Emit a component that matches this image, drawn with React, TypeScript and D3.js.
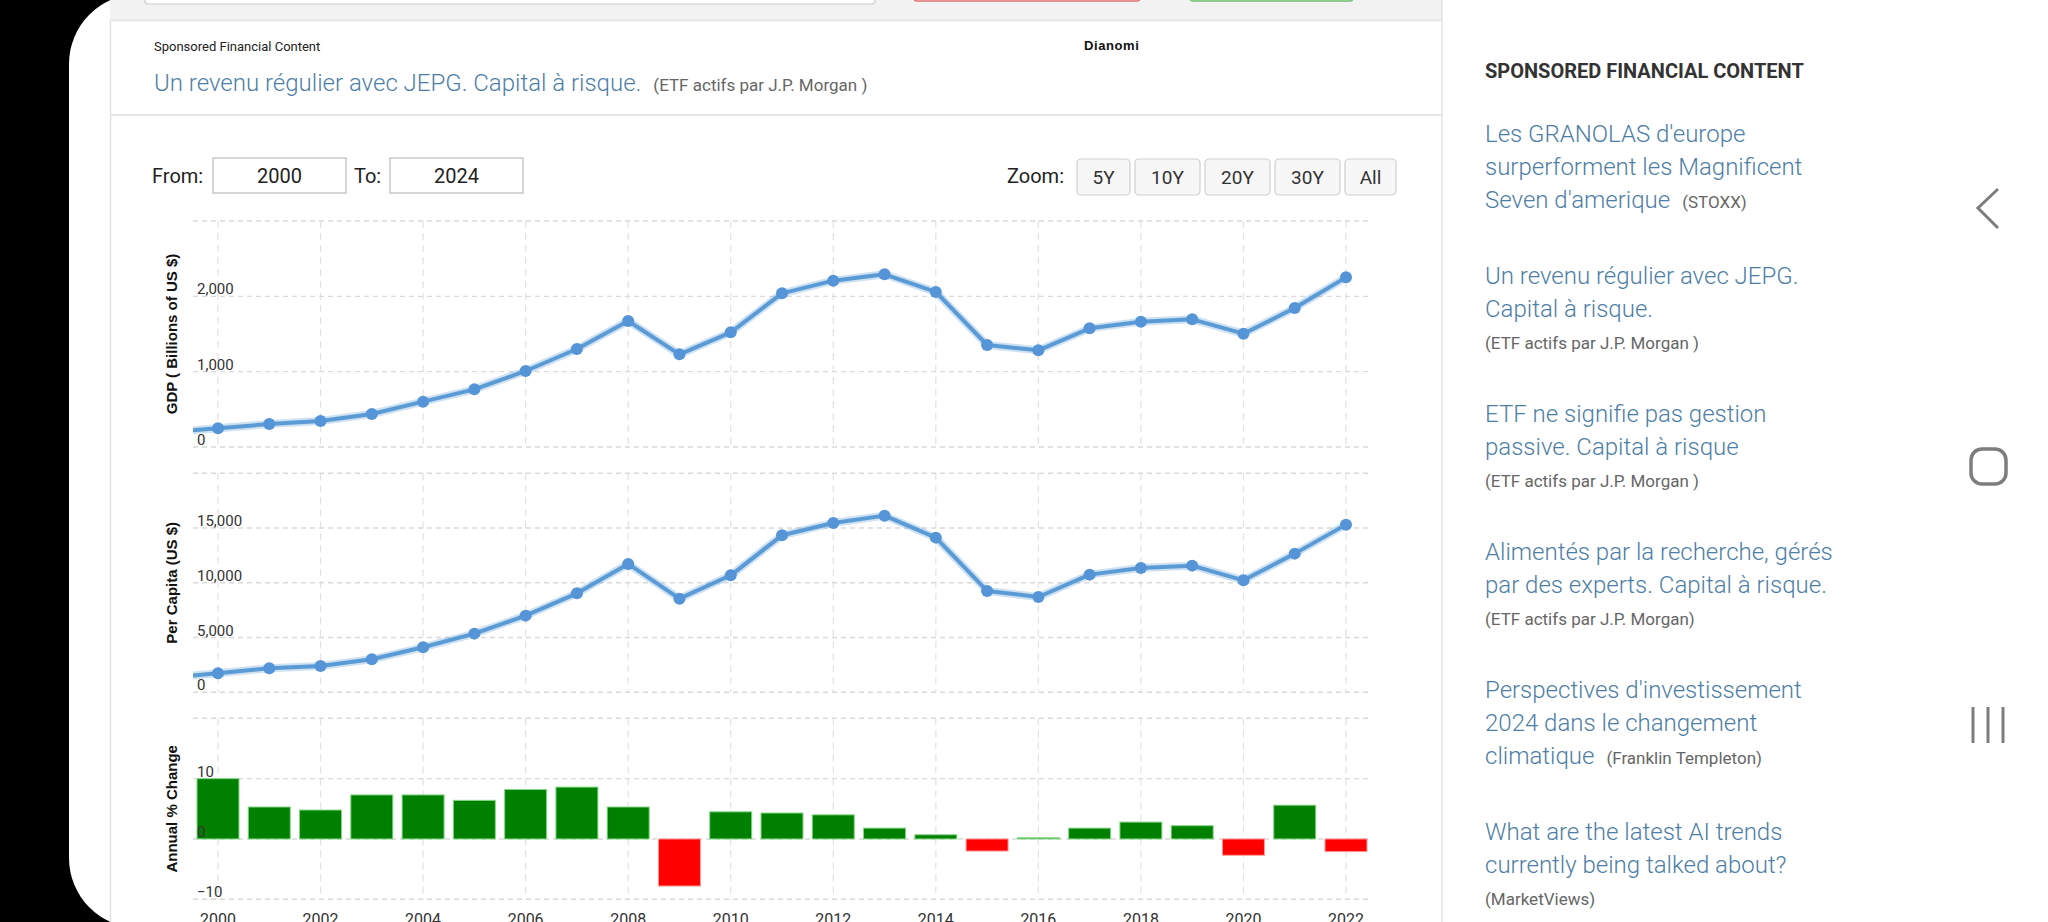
import React from "react";
import * as d3 from "d3";

// ---------- data ----------
const years = [1999, 2000, 2001, 2002, 2003, 2004, 2005, 2006, 2007, 2008, 2009, 2010, 2011, 2012, 2013, 2014, 2015, 2016, 2017, 2018, 2019, 2020, 2021, 2022];
const gdpValues = [196, 248, 305, 345, 438, 602, 765, 1009, 1301, 1673, 1230, 1522, 2040, 2208, 2292, 2058, 1354, 1283, 1575, 1664, 1695, 1504, 1845, 2252];
const perCapitaValues = [1330, 1735, 2192, 2405, 3014, 4110, 5358, 7002, 9041, 11720, 8554, 10685, 14338, 15464, 16134, 14125, 9254, 8706, 10746, 11355, 11568, 10228, 12664, 15312];
const growthYears = [2000, 2001, 2002, 2003, 2004, 2005, 2006, 2007, 2008, 2009, 2010, 2011, 2012, 2013, 2014, 2015, 2016, 2017, 2018, 2019, 2020, 2021, 2022];
const growthValues = [10.0, 5.3, 4.8, 7.3, 7.3, 6.4, 8.2, 8.6, 5.3, -7.8, 4.5, 4.3, 4.0, 1.8, 0.7, -2.0, 0.2, 1.8, 2.8, 2.2, -2.7, 5.6, -2.1];

const gdpTicks = [0, 1000, 2000, 3000];
const perCapitaTicks = [0, 5000, 10000, 15000, 20000];
const growthTicks = [-10, 0, 10, 20];
const xTickYears = [2000, 2002, 2004, 2006, 2008, 2010, 2012, 2014, 2016, 2018, 2020, 2022];

const zoomButtons = ["5Y", "10Y", "20Y", "30Y", "All"];
const fromYear = "2000";
const toYear = "2024";

const sidebarTitle = "SPONSORED FINANCIAL CONTENT";
const sidebarItems = [
  { lines: ["Les GRANOLAS d'europe", "surperforment les Magnificent", "Seven d'amerique"], source: "(STOXX)", inline: true },
  { lines: ["Un revenu régulier avec JEPG.", "Capital à risque."], source: "(ETF actifs par J.P. Morgan )", inline: false },
  { lines: ["ETF ne signifie pas gestion", "passive. Capital à risque"], source: "(ETF actifs par J.P. Morgan )", inline: false },
  { lines: ["Alimentés par la recherche, gérés", "par des experts. Capital à risque."], source: "(ETF actifs par J.P. Morgan)", inline: false },
  { lines: ["Perspectives d'investissement", "2024 dans le changement", "climatique"], source: "(Franklin Templeton)", inline: true },
  { lines: ["What are the latest AI trends", "currently being talked about?"], source: "(MarketViews)", inline: false },
];

// ---------- layout ----------
const W = 2048;
const H = 922;
const PLOT_L = 193;
const PLOT_R = 1369;
const ROBOTO = "Roboto, 'Noto Sans', sans-serif";
const ARIAL = "'Liberation Sans', Arial, sans-serif";
const LINE_COLOR = "#5b9bd5";
const MARKER_COLOR = "#5594d6";
const LINK_COLOR = "#4d7ea6";

const xScale = d3.scaleLinear().domain([2000, 2022]).range([218, 1346]);
const fmt = d3.format(",");

function Grid({ y, ticks }: { y: d3.ScaleLinear<number, number>; ticks: number[] }) {
  const [y0, y1] = y.range();
  return (
    <g>
      {xTickYears.map((yr) => (
        <line key={"v" + yr} x1={xScale(yr)} x2={xScale(yr)} y1={y1} y2={y0} stroke="#e2e2e2" strokeWidth={1.2} strokeDasharray="7,5" />
      ))}
      {ticks.map((t) => (
        <line key={"h" + t} x1={PLOT_L} x2={PLOT_R} y1={y(t)} y2={y(t)} stroke="#d9d9d9" strokeWidth={1.4} strokeDasharray="5,4" />
      ))}
    </g>
  );
}

function TickLabels({ y, ticks }: { y: d3.ScaleLinear<number, number>; ticks: number[] }) {
  return (
    <g>
      {ticks.slice(0, ticks.length - 1).map((t) => (
        <text key={t} x={197} y={y(t) - 2} fontFamily={ROBOTO} fontSize={15} fill="#333">
          {fmt(t)}
        </text>
      ))}
    </g>
  );
}

function AxisTitle({ y, label }: { y: d3.ScaleLinear<number, number>; label: string }) {
  const [a, b] = y.range();
  const cy = (a + b) / 2;
  return (
    <text
      transform={`translate(171,${cy}) rotate(-90)`}
      textAnchor="middle"
      dominantBaseline="central"
      fontFamily={ARIAL}
      fontWeight="bold"
      fontSize={15}
      fill="#111"
    >
      {label}
    </text>
  );
}

function LinePanel({ id, values, y, ticks, title }: { id: string; values: number[]; y: d3.ScaleLinear<number, number>; ticks: number[]; title: string }) {
  const pts: [number, number][] = years.map((yr, i) => [yr, values[i]]);
  const line = d3
    .line<[number, number]>()
    .x((d) => xScale(d[0]))
    .y((d) => y(d[1]));
  const path = line(pts) || "";
  return (
    <g>
      <Grid y={y} ticks={ticks} />
      <defs>
        <clipPath id={id}>
          <rect x={PLOT_L} y={0} width={PLOT_R - PLOT_L} height={H} />
        </clipPath>
      </defs>
      <g clipPath={`url(#${id})`}>
        <path d={path} fill="none" stroke={LINE_COLOR} strokeOpacity={0.3} strokeWidth={8} strokeLinejoin="round" />
        <path d={path} fill="none" stroke={LINE_COLOR} strokeWidth={4} strokeLinejoin="round" />
        {pts.map((d) => (
          <circle key={d[0]} cx={xScale(d[0])} cy={y(d[1])} r={6} fill={MARKER_COLOR} />
        ))}
      </g>
      <TickLabels y={y} ticks={ticks} />
      <AxisTitle y={y} label={title} />
    </g>
  );
}

function BarPanel({ y }: { y: d3.ScaleLinear<number, number> }) {
  const bw = 42;
  return (
    <g>
      <Grid y={y} ticks={growthTicks} />
      {growthYears.map((yr, i) => {
        const v = growthValues[i];
        const top = Math.min(y(v), y(0));
        const h = Math.abs(y(v) - y(0));
        const pos = v >= 0;
        return (
          <rect
            key={yr}
            x={xScale(yr) - bw / 2}
            y={top}
            width={bw}
            height={h}
            fill={pos ? "#008000" : "#ff0000"}
            stroke={pos ? "#86d886" : "#ff9a9a"}
            strokeWidth={1}
          />
        );
      })}
      <TickLabels y={y} ticks={growthTicks} />
      <AxisTitle y={y} label="Annual % Change" />
      {xTickYears.map((yr) => (
        <text key={yr} x={xScale(yr)} y={925} textAnchor="middle" fontFamily={ROBOTO} fontSize={16} fill="#333">
          {yr}
        </text>
      ))}
    </g>
  );
}

function Sidebar() {
  const x = 1485;
  let yy = 141.5;
  const out: React.ReactNode[] = [];
  sidebarItems.forEach((item, k) => {
    item.lines.forEach((ln, i) => {
      const isLast = i === item.lines.length - 1;
      out.push(
        <text key={`s${k}-${i}`} x={x} y={yy + i * 33} fontFamily={ROBOTO} fontWeight={300} fontSize={24} fill={LINK_COLOR}>
          {ln}
          {isLast && item.inline ? (
            <tspan dx={12} fontSize={17} fill="#666" fontWeight={400}>
              {item.source}
            </tspan>
          ) : null}
        </text>
      );
    });
    const last = yy + (item.lines.length - 1) * 33;
    if (item.inline) {
      yy = last + 76;
    } else {
      out.push(
        <text key={`src${k}`} x={x} y={last + 32} fontFamily={ROBOTO} fontSize={17} fill="#666">
          {item.source}
        </text>
      );
      yy = last + 32 + 73;
    }
  });
  return (
    <g>
      <text x={x} y={77.5} fontFamily={ROBOTO} fontWeight="bold" fontSize={20} fill="#333">
        {sidebarTitle}
      </text>
      {out}
    </g>
  );
}

function Controls() {
  const widths = [53, 65, 65, 65, 51];
  let bx = 1077;
  const btns = zoomButtons.map((b, i) => {
    const x0 = bx;
    bx += widths[i] + 5;
    return (
      <g key={b}>
        <rect x={x0} y={159} width={widths[i]} height={36} rx={4} fill="#f7f7f7" stroke="#cfcfcf" strokeWidth={1.2} />
        <text x={x0 + widths[i] / 2} y={183.5} textAnchor="middle" fontFamily={ROBOTO} fontSize={19} fill="#333">
          {b}
        </text>
      </g>
    );
  });
  return (
    <g>
      <text x={152} y={182.5} fontFamily={ROBOTO} fontSize={20} fill="#222">From:</text>
      <rect x={213} y={158} width={133} height={35} fill="#fff" stroke="#c8c8c8" strokeWidth={1.5} />
      <text x={279.5} y={183} textAnchor="middle" fontFamily={ROBOTO} fontSize={20} fill="#222">{fromYear}</text>
      <text x={354} y={182.5} fontFamily={ROBOTO} fontSize={20} fill="#222">To:</text>
      <rect x={390} y={158} width={133} height={35} fill="#fff" stroke="#c8c8c8" strokeWidth={1.5} />
      <text x={456.5} y={183} textAnchor="middle" fontFamily={ROBOTO} fontSize={20} fill="#222">{toYear}</text>
      <text x={1007} y={182.5} fontFamily={ROBOTO} fontSize={20} fill="#222">Zoom:</text>
      {btns}
    </g>
  );
}

export default function App() {
  const yGdp = d3.scaleLinear().domain([0, 3000]).range([447, 221]);
  const yPc = d3.scaleLinear().domain([0, 20000]).range([692.3, 473.3]);
  const yGr = d3.scaleLinear().domain([-10, 20]).range([899.3, 718.3]);
  return (
    <svg width={W} height={H} style={{ position: "absolute", left: 0, top: 0, display: "block" }}>
      <rect x={0} y={0} width={W} height={H} fill="#000" />
      <rect x={69} y={-6} width={2200} height={934} rx={70} ry={70} fill="#fff" />
      {/* top grey bar */}
      <rect x={110} y={-1} width={1332} height={21} fill="#f2f2f2" />
      <line x1={110} x2={1442} y1={20.5} y2={20.5} stroke="#e3e3e3" strokeWidth={1.5} />
      <rect x={145} y={-12} width={730} height={16} rx={3} fill="#fff" stroke="#cccccc" strokeWidth={1.2} />
      <rect x={914} y={-12} width={226} height={13} rx={3} fill="#fff" stroke="#e07070" strokeWidth={1.5} />
      <rect x={1190} y={-12} width={163} height={13} rx={3} fill="#fff" stroke="#6cbf6c" strokeWidth={1.5} />
      {/* card borders */}
      <line x1={110.5} x2={110.5} y1={20} y2={H} stroke="#e3e3e3" strokeWidth={1.5} />
      <line x1={1442} x2={1442} y1={0} y2={H} stroke="#e3e3e3" strokeWidth={1.5} />
      <line x1={110} x2={1442} y1={115} y2={115} stroke="#e6e6e6" strokeWidth={2} />
      {/* sponsored header */}
      <text x={154} y={50.5} fontFamily={ROBOTO} fontSize={13} fill="#222">Sponsored Financial Content</text>
      <text x={1084} y={49.5} fontFamily={ARIAL} fontWeight="bold" fontSize={13} letterSpacing={0.6} fill="#111">Dianomi</text>
      <text x={154} y={91} fontFamily={ROBOTO} fontWeight={300} fontSize={24} fill={LINK_COLOR}>
        Un revenu régulier avec JEPG. Capital à risque.
        <tspan dx={12} fontSize={17} fontWeight={400} fill="#666">(ETF actifs par J.P. Morgan )</tspan>
      </text>
      <Controls />
      <LinePanel id="clipGdp" values={gdpValues} y={yGdp} ticks={gdpTicks} title="GDP ( Billions of US $)" />
      <LinePanel id="clipPc" values={perCapitaValues} y={yPc} ticks={perCapitaTicks} title="Per Capita (US $)" />
      <BarPanel y={yGr} />
      <Sidebar />
      {/* android nav icons */}
      <polyline points="1998,189 1978,208 1998,228" fill="none" stroke="#7d7d7d" strokeWidth={3} />
      <rect x={1971} y={449} width={35} height={35} rx={11} fill="none" stroke="#7d7d7d" strokeWidth={3.5} />
      <line x1={1973} x2={1973} y1={707} y2={743} stroke="#7d7d7d" strokeWidth={3} />
      <line x1={1988} x2={1988} y1={707} y2={743} stroke="#7d7d7d" strokeWidth={3} />
      <line x1={2003} x2={2003} y1={707} y2={743} stroke="#7d7d7d" strokeWidth={3} />
    </svg>
  );
}
